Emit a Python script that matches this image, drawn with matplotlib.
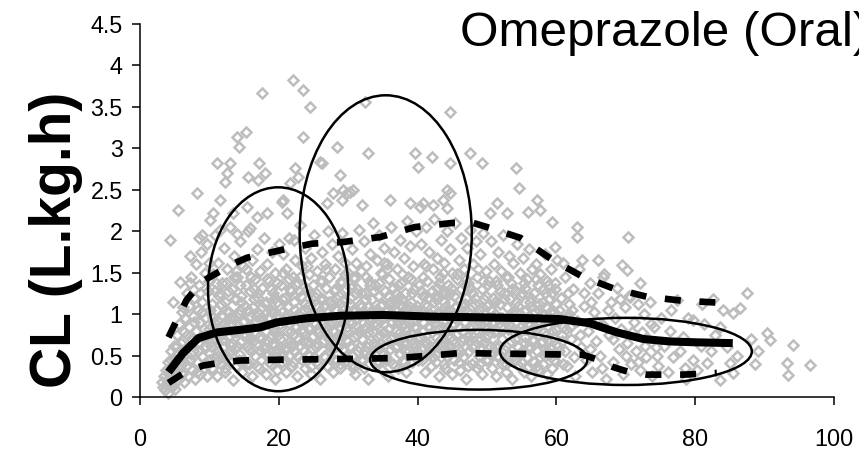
import numpy as np
import matplotlib
matplotlib.use("Agg")
import matplotlib.pyplot as plt
from matplotlib.patches import Ellipse

plt.rcParams['font.family'] = ['Liberation Sans', 'DejaVu Sans']

# observed clearance (L/kg/h) against age, grouped by age band
pts_young = [
    (3.1, 0.18), (3.3, 0.12), (3.5, 0.25), (3.6, 0.08), (3.8, 0.32), (3.9, 0.2), (4.0, 0.05), (4.1, 0.42), (4.2, 0.28), (4.3, 1.89),
    (4.4, 0.15), (4.5, 0.55), (4.6, 0.35), (4.7, 0.22), (4.8, 1.15), (4.9, 0.62), (5.0, 0.45), (5.1, 0.1), (5.2, 0.3), (5.3, 0.75),
    (5.4, 0.52), (5.5, 0.2), (5.6, 0.88), (5.7, 0.4), (5.8, 1.39), (5.9, 0.65), (6.0, 0.28), (6.1, 1.02), (6.2, 0.5), (6.3, 0.78),
    (6.4, 0.18), (6.5, 0.95), (6.6, 0.38), (6.7, 1.25), (6.8, 0.6), (6.9, 0.25), (7.0, 0.85), (7.1, 1.1), (7.2, 0.45), (7.3, 0.7),
    (7.4, 1.45), (7.5, 0.32), (7.6, 0.98), (7.7, 0.55), (7.8, 1.2), (7.9, 0.22), (8.0, 0.8), (8.1, 1.6), (8.2, 0.42), (8.3, 1.05),
    (8.4, 0.65), (8.5, 1.35), (8.6, 0.28), (8.7, 0.9), (8.8, 1.75), (8.9, 0.5), (9.0, 1.15), (9.1, 0.72), (9.2, 0.35), (9.3, 1.5),
    (9.4, 0.95), (9.5, 0.6), (9.6, 1.85), (9.7, 0.25), (9.8, 1.28), (9.9, 0.82), (10.0, 0.45), (9.95, 1.62), (8.45, 1.92), (7.15, 1.7),
    (6.2, 1.09), (7.2, 1.37), (8.9, 1.95), (10.1, 2.14), (4.2, 0.35), (4.6, 0.12), (5.0, 0.25), (5.4, 0.62), (5.8, 0.35), (6.3, 0.42),
    (6.8, 0.75), (7.3, 0.52), (7.8, 0.9), (8.2, 0.3), (3.7, 0.15), (4.4, 0.45),
]

pts_10_20 = [
    (10.2, 0.62), (10.3, 1.12), (10.4, 0.35), (10.5, 1.48), (10.6, 0.82), (10.7, 0.48), (10.8, 1.95), (10.9, 0.7), (11.0, 1.05), (11.1, 0.25),
    (11.2, 0.92), (11.3, 1.62), (11.4, 0.55), (11.5, 1.25), (11.6, 0.78), (11.7, 0.4), (11.8, 1.38), (11.9, 0.98), (12.0, 0.6), (12.1, 1.8),
    (12.2, 0.3), (12.3, 1.15), (12.4, 0.85), (12.5, 0.5), (12.6, 1.55), (12.7, 0.72), (12.8, 1.02), (12.9, 0.42), (13.0, 2.05), (13.1, 0.88),
    (13.2, 1.3), (13.3, 0.65), (13.4, 0.2), (13.5, 1.7), (13.6, 0.95), (13.7, 0.58), (13.8, 1.18), (13.9, 0.38), (14.0, 1.45), (14.1, 0.8),
    (14.2, 1.0), (14.3, 0.52), (14.4, 1.88), (14.5, 0.68), (14.6, 1.22), (14.7, 0.3), (14.8, 0.9), (14.9, 1.58), (15.0, 0.45), (15.1, 1.1),
    (15.2, 0.75), (15.3, 1.35), (15.4, 0.6), (15.5, 2.0), (15.6, 0.85), (15.7, 0.4), (15.8, 1.28), (15.9, 0.98), (16.0, 0.55), (16.1, 1.65),
    (16.2, 0.25), (16.3, 1.08), (16.4, 0.78), (16.5, 1.42), (16.6, 0.5), (16.7, 0.92), (16.8, 1.78), (16.9, 0.65), (17.0, 1.2), (17.1, 0.35),
    (17.2, 1.0), (17.3, 1.52), (17.4, 0.7), (17.5, 0.45), (17.6, 1.32), (17.7, 0.88), (17.8, 1.92), (17.9, 0.58), (18.0, 1.12), (18.1, 0.8),
    (18.2, 0.28), (18.3, 1.6), (18.4, 0.95), (18.5, 0.52), (18.6, 1.4), (18.7, 0.72), (18.8, 1.05), (18.9, 0.4), (19.0, 1.75), (19.1, 0.85),
    (19.2, 1.25), (19.3, 0.62), (19.4, 0.22), (19.5, 1.5), (19.6, 0.98), (19.7, 0.48), (19.8, 1.15), (19.9, 0.75), (20.0, 1.85), (10.45, 0.95),
    (11.45, 0.72), (12.45, 1.38), (13.45, 0.8), (14.45, 1.05), (15.45, 0.62), (16.45, 1.18), (17.45, 0.95), (18.45, 0.68), (19.45, 1.02), (10.85, 1.28),
    (11.85, 0.5), (12.85, 0.95), (13.85, 1.52), (14.85, 0.42), (15.85, 0.72), (16.85, 1.02), (17.85, 0.6), (18.85, 1.3), (19.85, 0.55), (12.15, 0.78),
    (11.5, 2.01), (14.0, 1.97), (15.9, 2.04), (20.5, 2.35),
]

pts_20_30 = [
    (20.2, 0.7), (20.3, 1.35), (20.4, 0.42), (20.5, 1.02), (20.6, 1.72), (20.7, 0.58), (20.8, 0.9), (20.9, 1.2), (21.0, 0.3), (21.1, 1.55),
    (21.2, 0.8), (21.3, 1.08), (21.4, 0.5), (21.5, 1.92), (21.6, 0.68), (21.7, 1.28), (21.8, 0.95), (21.9, 0.38), (22.0, 1.45), (22.1, 0.75),
    (22.2, 1.15), (22.3, 0.55), (22.4, 1.65), (22.5, 0.85), (22.6, 0.25), (22.7, 1.38), (22.8, 1.0), (22.9, 0.62), (23.0, 2.08), (23.1, 0.9),
    (23.2, 1.22), (23.3, 0.45), (23.4, 1.58), (23.5, 0.78), (23.6, 1.05), (23.7, 0.35), (23.8, 1.8), (23.9, 0.65), (24.0, 1.3), (24.1, 0.95),
    (24.2, 0.52), (24.3, 1.48), (24.4, 0.82), (24.5, 1.12), (24.6, 0.28), (24.7, 1.68), (24.8, 0.72), (24.9, 1.0), (25.0, 0.48), (25.1, 1.95),
    (25.2, 0.88), (25.3, 1.25), (25.4, 0.6), (25.5, 1.52), (25.6, 0.4), (25.7, 1.08), (25.8, 0.78), (25.9, 1.4), (26.0, 0.22), (26.1, 0.98),
    (26.2, 1.75), (26.3, 0.68), (26.4, 1.18), (26.5, 0.5), (26.6, 1.6), (26.7, 0.85), (26.8, 1.32), (26.9, 0.38), (27.0, 1.02), (27.1, 2.0),
    (27.2, 0.7), (27.3, 1.45), (27.4, 0.55), (27.5, 1.15), (27.6, 0.92), (27.7, 1.85), (27.8, 0.3), (27.9, 1.28), (28.0, 0.8), (28.1, 1.55),
    (28.2, 0.62), (28.3, 1.05), (28.4, 0.45), (28.5, 1.7), (28.6, 0.95), (28.7, 1.22), (28.8, 0.35), (28.9, 1.4), (29.0, 0.75), (29.1, 1.98),
    (29.2, 0.58), (29.3, 1.1), (29.4, 0.88), (29.5, 1.62), (29.6, 0.42), (29.7, 1.3), (29.8, 0.68), (29.9, 1.0), (30.0, 1.5), (20.45, 0.52),
    (21.45, 1.42), (22.45, 0.98), (23.45, 0.68), (24.45, 1.25), (25.45, 0.82), (26.45, 1.1), (27.45, 0.62), (28.45, 0.9), (29.45, 1.18), (20.85, 0.98),
    (21.85, 0.62), (22.85, 1.28), (23.85, 0.9), (24.85, 0.58), (25.85, 1.02), (26.85, 0.78), (27.85, 1.12), (28.85, 0.7), (29.85, 0.85), (22.15, 1.9),
]

pts_30_40 = [
    (30.2, 0.62), (30.3, 1.2), (30.4, 0.88), (30.5, 1.78), (30.6, 0.4), (30.7, 1.05), (30.8, 1.45), (30.9, 0.72), (31.0, 0.28), (31.1, 1.62),
    (31.2, 0.95), (31.3, 1.3), (31.4, 0.55), (31.5, 2.02), (31.6, 0.8), (31.7, 1.12), (31.8, 0.45), (31.9, 1.52), (32.0, 0.7), (32.1, 1.0),
    (32.2, 1.88), (32.3, 0.35), (32.4, 1.25), (32.5, 0.85), (32.6, 1.58), (32.7, 0.6), (32.8, 1.08), (32.9, 0.22), (33.0, 1.4), (33.1, 0.92),
    (33.2, 1.72), (33.3, 0.5), (33.4, 1.18), (33.5, 0.78), (33.6, 2.1), (33.7, 0.65), (33.8, 1.35), (33.9, 1.0), (34.0, 0.42), (34.1, 1.65),
    (34.2, 0.88), (34.3, 1.22), (34.4, 0.58), (34.5, 1.95), (34.6, 0.75), (34.7, 1.1), (34.8, 0.32), (34.9, 1.48), (35.0, 0.95), (35.1, 1.8),
    (35.2, 0.62), (35.3, 1.28), (35.4, 0.48), (35.5, 1.02), (35.6, 1.6), (35.7, 0.82), (35.8, 0.25), (35.9, 1.42), (36.0, 1.15), (36.1, 0.7),
    (36.2, 2.05), (36.3, 0.9), (36.4, 0.4), (36.5, 1.32), (36.6, 1.75), (36.7, 0.6), (36.8, 1.05), (36.9, 0.8), (37.0, 1.55), (37.1, 0.35),
    (37.2, 1.2), (37.3, 0.98), (37.4, 1.9), (37.5, 0.52), (37.6, 1.38), (37.7, 0.72), (37.8, 1.08), (37.9, 0.45), (38.0, 1.68), (38.1, 0.88),
    (38.2, 1.25), (38.3, 0.3), (38.4, 2.12), (38.5, 0.65), (38.6, 1.45), (38.7, 1.0), (38.8, 0.55), (38.9, 1.82), (39.0, 0.78), (39.1, 1.15),
    (39.2, 0.42), (39.3, 1.58), (39.4, 0.92), (39.5, 1.3), (39.6, 0.6), (39.7, 2.0), (39.8, 0.85), (39.9, 1.1), (40.0, 0.5), (30.45, 1.32),
    (31.45, 0.85), (32.45, 0.55), (33.45, 1.05), (34.45, 1.38), (35.45, 0.7), (36.45, 0.98), (37.45, 1.12), (38.45, 0.82), (39.45, 1.0), (30.85, 1.02),
    (31.85, 1.25), (32.85, 0.78), (33.85, 0.62), (34.85, 1.0), (35.85, 1.12), (36.85, 1.25), (37.85, 0.65), (38.85, 1.08), (39.85, 0.7), (35.15, 1.62),
]

pts_40_50 = [
    (40.2, 1.35), (40.3, 0.72), (40.4, 1.05), (40.5, 1.85), (40.6, 0.45), (40.7, 1.22), (40.8, 0.9), (40.9, 1.6), (41.0, 0.3), (41.1, 1.12),
    (41.2, 2.05), (41.3, 0.65), (41.4, 1.4), (41.5, 0.85), (41.6, 0.52), (41.7, 1.75), (41.8, 1.0), (41.9, 0.38), (42.0, 1.28), (42.1, 0.78),
    (42.2, 1.55), (42.3, 0.6), (42.4, 2.15), (42.5, 0.95), (42.6, 1.18), (42.7, 0.42), (42.8, 1.68), (42.9, 0.82), (43.0, 1.02), (43.1, 0.25),
    (43.2, 1.45), (43.3, 0.7), (43.4, 1.9), (43.5, 0.55), (43.6, 1.25), (43.7, 0.92), (43.8, 1.62), (43.9, 0.35), (44.0, 1.08), (44.1, 0.8),
    (44.2, 2.0), (44.3, 0.5), (44.4, 1.35), (44.5, 0.98), (44.6, 1.78), (44.7, 0.62), (44.8, 1.15), (44.9, 0.28), (45.0, 1.5), (45.1, 0.88),
    (45.2, 1.22), (45.3, 0.45), (45.4, 2.1), (45.5, 0.75), (45.6, 1.42), (45.7, 1.0), (45.8, 0.58), (45.9, 1.65), (46.0, 0.85), (46.1, 0.32),
    (46.2, 1.3), (46.3, 1.92), (46.4, 0.68), (46.5, 1.08), (46.6, 0.48), (46.7, 1.55), (46.8, 0.9), (46.9, 1.2), (47.0, 0.22), (47.1, 1.8),
    (47.2, 0.72), (47.3, 1.38), (47.4, 0.55), (47.5, 1.0), (47.6, 2.02), (47.7, 0.82), (47.8, 1.25), (47.9, 0.4), (48.0, 1.6), (48.1, 0.95),
    (48.2, 0.62), (48.3, 1.12), (48.4, 1.88), (48.5, 0.35), (48.6, 1.45), (48.7, 0.78), (48.8, 1.05), (48.9, 0.5), (49.0, 1.72), (49.1, 0.88),
    (49.2, 1.3), (49.3, 0.28), (49.4, 1.98), (49.5, 0.65), (49.6, 1.18), (49.7, 0.92), (49.8, 1.52), (49.9, 0.45), (50.0, 1.1), (40.45, 0.58),
    (41.45, 1.2), (42.45, 0.88), (43.45, 0.62), (44.45, 1.05), (45.45, 0.95), (46.45, 1.12), (47.45, 0.68), (48.45, 0.98), (49.45, 1.4), (40.85, 1.02),
    (41.85, 0.68), (42.85, 1.32), (43.85, 1.15), (44.85, 0.72), (45.85, 0.52), (46.85, 1.35), (47.85, 1.1), (48.85, 0.72), (49.85, 0.82), (44.15, 1.25),
]

pts_50_60 = [
    (50.2, 0.75), (50.3, 1.4), (50.4, 0.52), (50.5, 1.05), (50.6, 1.88), (50.7, 0.35), (50.8, 1.2), (50.9, 0.88), (51.0, 1.6), (51.1, 0.62),
    (51.2, 1.0), (51.3, 0.25), (51.4, 1.35), (51.5, 0.8), (51.6, 1.75), (51.7, 0.48), (51.8, 1.12), (51.9, 0.95), (52.0, 1.52), (52.1, 0.4),
    (52.2, 0.7), (52.3, 1.95), (52.4, 1.25), (52.5, 0.58), (52.6, 0.92), (52.7, 1.45), (52.8, 0.3), (52.9, 1.08), (53.0, 0.82), (53.1, 1.7),
    (53.2, 0.5), (53.3, 1.18), (53.4, 0.68), (53.5, 1.38), (53.6, 0.22), (53.7, 1.0), (53.8, 1.62), (53.9, 0.78), (54.0, 0.45), (54.1, 1.28),
    (54.2, 0.9), (54.3, 1.85), (54.4, 0.6), (54.5, 1.1), (54.6, 0.38), (54.7, 1.5), (54.8, 0.85), (54.9, 1.22), (55.0, 0.55), (55.1, 0.98),
    (55.2, 1.68), (55.3, 0.3), (55.4, 1.32), (55.5, 0.72), (55.6, 1.05), (55.7, 0.48), (55.8, 1.42), (55.9, 0.88), (56.0, 1.78), (56.1, 0.62),
    (56.2, 1.15), (56.3, 0.25), (56.4, 0.95), (56.5, 1.55), (56.6, 0.7), (56.7, 1.25), (56.8, 0.42), (56.9, 1.02), (57.0, 0.82), (57.1, 1.6),
    (57.2, 0.55), (57.3, 1.35), (57.4, 0.32), (57.5, 1.12), (57.6, 0.9), (57.7, 1.48), (57.8, 0.65), (57.9, 1.0), (58.0, 0.4), (58.1, 1.3),
    (58.2, 0.78), (58.3, 1.72), (58.4, 0.5), (58.5, 1.08), (58.6, 0.28), (58.7, 1.4), (58.8, 0.85), (58.9, 1.18), (59.0, 0.6), (59.1, 0.95),
    (59.2, 1.55), (59.3, 0.35), (59.4, 1.25), (59.5, 0.72), (59.6, 1.02), (59.7, 0.45), (59.8, 1.38), (59.9, 0.82), (60.0, 1.12), (55.45, 0.65),
]

# the packed middle of the cloud
pts_core = [
    (8.3, 0.55), (8.7, 1.25), (9.2, 0.82), (9.6, 0.4), (10.1, 1.05), (10.4, 0.68), (10.9, 1.38), (11.2, 0.5), (11.6, 1.12), (12.0, 0.88),
    (12.3, 0.35), (12.7, 1.28), (13.1, 0.62), (13.5, 1.45), (13.8, 0.78), (14.2, 0.45), (14.6, 1.15), (15.0, 0.92), (15.3, 1.55), (15.7, 0.58),
    (16.1, 0.85), (16.4, 1.3), (16.8, 0.38), (17.2, 0.72), (17.6, 1.08), (18.0, 0.52), (18.3, 1.42), (18.7, 0.95), (19.1, 0.65), (19.5, 1.2),
    (19.8, 0.32), (20.2, 0.88), (20.6, 1.5), (21.0, 0.6), (21.3, 1.1), (21.7, 0.8), (22.1, 0.42), (22.5, 1.35), (22.8, 0.7), (23.2, 1.02),
    (23.6, 0.55), (24.0, 1.58), (24.3, 0.85), (24.7, 0.38), (25.1, 1.22), (25.5, 0.65), (25.8, 0.98), (26.2, 1.4), (26.6, 0.48), (27.0, 0.82),
    (27.3, 1.15), (27.7, 0.58), (28.1, 1.3), (28.5, 0.75), (28.8, 0.4), (29.2, 1.05), (29.6, 1.48), (30.0, 0.68), (30.3, 0.92), (30.7, 0.35),
    (31.1, 1.25), (31.5, 0.6), (31.8, 1.08), (32.2, 0.82), (32.6, 1.45), (33.0, 0.5), (33.3, 0.95), (33.7, 1.28), (34.1, 0.72), (34.5, 0.42),
    (34.8, 1.12), (35.2, 0.88), (35.6, 1.55), (36.0, 0.58), (36.3, 1.0), (36.7, 0.38), (37.1, 1.35), (37.5, 0.78), (37.8, 1.18), (38.2, 0.55),
    (38.6, 0.9), (39.0, 1.42), (39.3, 0.65), (39.7, 1.05), (40.1, 0.45), (40.5, 1.28), (40.8, 0.8), (41.2, 1.58), (41.6, 0.6), (42.0, 0.95),
    (42.3, 1.15), (42.7, 0.52), (43.1, 1.38), (43.5, 0.85), (43.8, 0.4), (44.2, 1.02), (44.6, 1.25), (45.0, 0.68), (45.3, 0.98), (45.7, 1.48),
    (46.1, 0.55), (46.5, 0.8), (46.8, 1.12), (47.2, 0.38), (47.6, 1.32), (48.0, 0.72), (48.3, 1.0), (48.7, 1.55), (49.1, 0.6), (49.5, 0.85),
    (49.8, 1.22), (50.2, 0.45), (50.6, 1.05), (51.0, 0.78), (51.3, 1.4), (51.7, 0.62), (52.1, 0.95), (52.5, 1.18), (52.8, 0.4), (53.2, 0.88),
    (53.6, 1.3), (54.0, 0.7), (54.3, 1.02), (54.7, 0.52), (55.1, 1.25), (55.5, 0.82), (55.8, 0.35), (56.2, 1.08), (56.6, 0.68), (57.0, 1.42),
    (57.3, 0.92), (57.7, 0.48), (58.1, 1.15), (58.5, 0.75), (58.8, 1.35), (59.2, 0.58), (59.6, 0.9), (60.0, 0.42), (60.4, 1.05), (60.8, 0.75),
    (61.2, 0.55), (61.6, 1.25), (62.0, 0.85),
    (8.9, 1.02), (9.4, 0.62), (9.9, 1.4), (10.6, 0.9), (11.0, 0.42), (11.4, 1.22), (11.9, 0.7), (12.5, 1.02), (12.9, 0.55), (13.3, 0.95),
    (13.7, 1.18), (14.0, 0.62), (14.4, 1.35), (14.9, 0.75), (15.2, 0.4), (15.6, 1.05), (16.0, 1.45), (16.3, 0.68), (16.7, 0.98), (17.0, 1.25),
    (17.4, 0.55), (17.9, 0.88), (18.2, 1.15), (18.6, 0.42), (19.0, 1.02), (19.3, 0.78), (19.7, 1.38), (20.1, 0.6), (20.4, 1.18), (20.9, 0.45),
    (21.2, 0.95), (21.6, 1.3), (21.9, 0.65), (22.3, 1.05), (22.7, 0.5), (23.1, 1.45), (23.4, 0.82), (23.8, 1.12), (24.2, 0.68), (24.6, 0.95),
    (24.9, 1.35), (25.3, 0.42), (25.7, 0.78), (26.0, 1.18), (26.4, 0.88), (26.8, 1.55), (27.2, 0.62), (27.5, 0.98), (27.9, 0.45), (28.3, 1.2),
    (28.7, 0.85), (29.0, 1.38), (29.4, 0.55), (29.8, 0.8), (30.2, 1.12), (30.6, 0.5), (30.9, 1.42), (31.3, 0.75), (31.7, 0.98), (32.1, 0.45),
    (32.4, 1.18), (32.8, 0.65), (33.2, 1.35), (33.6, 0.88), (34.0, 1.05), (34.3, 0.6), (34.7, 1.5), (35.1, 0.78), (35.5, 0.45), (35.8, 1.22),
    (36.2, 0.92), (36.6, 1.12), (37.0, 0.62), (37.3, 0.9), (37.7, 1.48), (38.1, 0.42), (38.4, 1.05), (38.8, 0.72), (39.2, 1.25), (39.5, 0.85),
    (39.9, 0.55), (40.3, 0.98), (40.7, 1.45), (41.0, 0.68), (41.4, 1.1), (41.8, 0.85), (42.2, 0.48), (42.5, 1.22), (42.9, 1.0), (43.3, 0.65),
    (43.7, 1.5), (44.0, 0.78), (44.4, 0.55), (44.8, 1.32), (45.2, 0.88), (45.5, 1.1), (45.9, 0.42), (46.3, 1.0), (46.7, 0.7), (47.0, 1.42),
    (47.4, 0.85), (47.8, 0.6), (48.2, 1.2), (48.5, 0.92), (48.9, 0.4), (49.3, 1.08), (49.7, 0.72), (50.0, 1.35), (50.4, 0.62), (50.8, 0.92),
    (51.2, 1.15), (51.5, 0.5), (51.9, 1.28), (52.3, 0.82), (52.7, 0.62), (53.0, 1.45), (53.4, 0.95), (53.8, 0.5), (54.2, 1.15), (54.5, 0.8),
    (54.9, 0.42), (55.3, 1.38), (55.7, 0.95), (56.0, 0.58), (56.4, 1.2), (56.8, 0.85), (57.2, 0.38), (57.5, 1.05), (57.9, 0.68), (58.3, 1.25),
    (58.7, 0.55), (59.0, 1.02), (59.4, 0.8), (59.8, 1.3), (60.2, 0.62), (60.6, 0.95), (61.0, 0.4), (61.4, 0.82), (61.8, 1.12),
]

pts_60_75 = [
    (60.3, 0.55), (60.6, 1.2), (60.9, 0.85), (61.2, 1.45), (61.5, 0.38), (61.8, 1.0), (62.1, 0.7), (62.4, 1.3), (62.7, 0.25), (63.0, 0.92),
    (63.3, 1.55), (63.6, 0.6), (63.9, 1.1), (64.2, 0.45), (64.5, 0.8), (64.8, 1.38), (65.1, 0.3), (65.4, 1.02), (65.7, 0.68), (66.0, 1.25),
    (66.3, 0.5), (66.6, 0.88), (66.9, 1.48), (67.2, 0.22), (67.5, 0.75), (67.8, 1.15), (68.1, 0.42), (68.4, 0.95), (68.7, 1.32), (69.0, 0.58),
    (69.3, 0.82), (69.6, 0.28), (69.9, 1.08), (70.2, 0.65), (70.5, 1.22), (70.8, 0.4), (71.1, 0.9), (71.4, 0.55), (71.7, 1.12), (72.0, 0.32),
    (72.3, 0.78), (72.6, 1.0), (72.9, 0.48), (73.2, 0.7), (73.5, 1.15), (73.8, 0.25), (74.1, 0.85), (74.4, 0.6), (74.7, 0.38), (75.0, 0.95),
    (60.8, 0.68), (61.6, 0.95), (62.5, 0.48), (63.4, 0.75), (64.0, 1.25), (64.9, 0.58), (65.8, 0.9), (66.5, 0.35), (67.4, 1.05), (68.2, 0.7),
    (69.1, 1.18), (70.0, 0.5), (70.9, 0.78), (71.8, 0.42), (72.7, 0.62), (73.6, 0.88), (74.5, 0.5), (61.0, 1.62), (62.2, 1.05), (65.0, 1.15),
]

pts_old = [
    (75.5, 0.62), (76.0, 0.3), (76.4, 0.8), (76.8, 0.48), (77.4, 1.17), (77.8, 0.55), (78.2, 0.72), (78.6, 0.22), (79.0, 0.95), (79.7, 0.45),
    (80.3, 0.33), (80.8, 0.62), (81.2, 0.88), (81.7, 0.41), (82.2, 0.55), (82.8, 0.75), (83.6, 0.2), (84.0, 1.05), (84.5, 0.6), (85.0, 0.41),
    (85.4, 0.29), (85.4, 1.01), (86.0, 0.5), (86.5, 1.07), (87.5, 1.25), (88.0, 0.7), (88.6, 0.4), (90.3, 0.77), (90.8, 0.69), (93.2, 0.41),
    (93.4, 0.27), (94.1, 0.63), (96.5, 0.39), (83.6, 0.84), (79.7, 0.93), (81.0, 1.12), (82.5, 1.18), (78.5, 0.35), (76.5, 1.05), (89.0, 0.55),
]

pts_high = [
    (17.6, 3.67), (22.0, 3.83), (23.5, 3.70), (24.5, 3.50), (15.3, 3.20), (14.0, 3.14), (14.3, 3.02), (23.5, 3.14), (32.4, 3.56), (28.4, 3.02),
    (32.9, 2.94), (39.6, 2.94), (40.1, 2.77), (11.1, 2.82), (13.0, 2.82), (12.5, 2.70), (12.2, 2.59), (17.1, 2.82), (18.0, 2.70), (17.0, 2.62),
    (15.6, 2.65), (22.3, 2.76), (22.8, 2.65), (21.6, 2.58), (26.2, 2.82), (28.8, 2.68), (30.7, 2.50), (29.8, 2.46), (29.1, 2.38), (36.0, 2.38),
    (38.9, 2.34), (40.3, 2.29), (5.5, 2.26), (8.2, 2.46), (10.5, 2.22), (11.5, 2.38), (13.4, 2.22), (15.4, 2.29), (16.9, 2.17), (18.3, 2.22),
    (20.6, 2.38), (21.2, 2.22), (26.9, 2.34), (27.8, 2.46), (29.3, 2.50), (30.3, 2.47), (44.7, 3.44), (47.6, 2.94), (49.3, 2.82), (44.7, 2.82),
    (42.1, 2.90), (54.2, 2.76), (54.6, 2.52), (57.2, 2.38), (57.6, 2.26), (55.9, 2.23), (59.4, 2.11), (43.7, 2.38), (44.7, 2.46), (44.2, 2.28),
    (51.4, 2.34), (52.9, 2.22), (50.4, 2.22), (63.0, 2.05), (70.3, 1.93), (63.0, 1.93), (59.8, 1.81), (60.1, 1.65), (63.7, 1.65), (66.0, 1.65),
    (66.7, 1.45), (69.5, 1.59), (70.2, 1.53), (72.0, 1.37), (70.6, 1.21), (25.9, 2.84), (32.0, 2.32), (40.8, 2.34), (42.2, 2.32), (44.2, 2.50),
]

# median and percentile curves
med_age = [4.1, 6.2, 8.4, 11.1, 14.4, 17.3, 19.7, 24, 28.8, 35, 42, 50, 57, 60.5, 64.8, 68.7, 72.5, 76.4, 80, 85.4]
med_cl = [0.30, 0.53, 0.71, 0.78, 0.81, 0.84, 0.90, 0.95, 0.98, 0.99, 0.97, 0.96, 0.95, 0.94, 0.89, 0.78, 0.70, 0.67, 0.66, 0.65]

upper_age = [4.1, 6.7, 8.9, 13.0, 15.4, 20.2, 24.8, 29.3, 34.6, 39.6, 45, 48, 50, 54.8, 59.5, 63.8, 68.2, 73, 78.3, 83.1]
upper_cl = [0.72, 1.17, 1.39, 1.59, 1.68, 1.77, 1.85, 1.87, 1.93, 2.05, 2.10, 2.10, 2.05, 1.92, 1.65, 1.45, 1.31, 1.21, 1.16, 1.14]

lower_age = [4.1, 6.5, 9.1, 12, 14.4, 20, 30, 37, 42, 46, 55, 63.8, 66, 68.2, 70.5, 73, 78.3, 83.1]
lower_cl = [0.17, 0.30, 0.38, 0.42, 0.44, 0.45, 0.46, 0.47, 0.50, 0.53, 0.52, 0.51, 0.45, 0.36, 0.30, 0.27, 0.27, 0.29]

# age groups circled on the plot: (centre age, centre CL, width, height)
groups = [
    (19.9, 1.30, 20.2, 2.46),
    (35.4, 1.97, 24.8, 3.34),
    (48.8, 0.45, 31.3, 0.72),
    (70.0, 0.55, 36.3, 0.81),
]

pts = np.array(pts_young + pts_10_20 + pts_20_30 + pts_30_40 + pts_40_50
               + pts_50_60 + pts_core + pts_60_75 + pts_old + pts_high)

fig = plt.figure(figsize=(8.59, 4.53), dpi=100)
ax = fig.add_axes([0.163, 0.1236, 0.808, 0.8234])

ax.plot(pts[:, 0], pts[:, 1], linestyle='none', marker='D', markersize=5.3,
        markerfacecolor='none', markeredgecolor='#bdbdbd', markeredgewidth=1.8,
        zorder=1, clip_on=False)

for cx, cy, w, h in groups:
    ax.add_patch(Ellipse((cx, cy), w, h, fill=False, edgecolor='black',
                         linewidth=1.8, zorder=3))

ax.plot(med_age, med_cl, color='black', linewidth=5.8, solid_capstyle='butt',
        solid_joinstyle='round', zorder=4)
for xs, ys in ((upper_age, upper_cl), (lower_age, lower_cl)):
    ax.plot(xs, ys, color='black', linewidth=4.8, dashes=(2.4, 2.8),
            dash_capstyle='butt', zorder=4)

ax.set_xlim(0, 100)
ax.set_ylim(0, 4.5)
ax.set_xticks(np.arange(0, 101, 20))
ax.set_yticks(np.arange(0, 4.51, 0.5))
ax.yaxis.set_major_formatter(matplotlib.ticker.FormatStrFormatter('%g'))

for side in ('top', 'right'):
    ax.spines[side].set_visible(False)
for side in ('left', 'bottom'):
    ax.spines[side].set_linewidth(1.1)

ax.tick_params(axis='both', direction='out', length=5.5, width=1.1, labelsize=16.8)
ax.tick_params(axis='x', pad=17)
ax.tick_params(axis='y', pad=7)

fig.text(71 / 859, 0.47, 'CL (L.kg.h)', rotation=90, rotation_mode='anchor',
         ha='center', va='baseline', fontsize=41, fontweight='bold')
fig.text(460 / 859, 1 - 46 / 453, 'Omeprazole (Oral)', ha='left', va='baseline',
         fontsize=35.6)

fig.savefig('out.png', dpi=100)
